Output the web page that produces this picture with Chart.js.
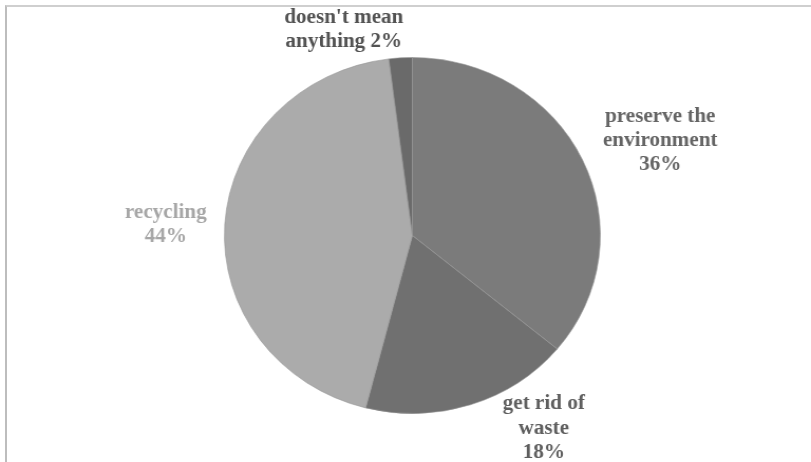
<!DOCTYPE html>
<html>
<head>
<meta charset="utf-8">
<script src="https://cdn.jsdelivr.net/npm/chart.js@4"></script>
<style>
    html, body { margin: 0; padding: 0; background: #fff; }
    #wrap { position: relative; width: 811px; height: 462px; overflow: hidden; }
    #frame {
        position: absolute; left: 5px; top: 5px; width: 820px; height: 470px;
        border-top: 2px solid #cfcfcf; border-left: 2px solid #bdbdbd;
    }
    /* the chart is drawn a little wider than tall */
    canvas { position: absolute; left: 0; top: 0; transform: scaleX(1.056); transform-origin: 0 0; }
</style>
</head>
<body>
<div id="wrap">
    <div id="frame"></div>
    <canvas id="pieChart" width="811" height="462"></canvas>
</div>
<script>
const labels = ["preserve the environment", "get rid of waste", "recycling", "doesn't mean anything"];
const percents = [36, 18, 44, 2];
const labelLines = [
    ["preserve the", "environment", "36%"],
    ["get rid of", "waste", "18%"],
    ["recycling", "44%"],
    ["doesn't mean", "anything 2%"]
];
const sliceColors = ["#7b7b7b", "#707070", "#ababab", "#6a6a6a"];
const textColors = ["#646464", "#5e5e5e", "#a6a6a6", "#525252"];

// where each label sits, relative to its slice's mid angle
const labelPlace = [
    { dist: 46, dx: 32, dy: 1, lh: 24 },
    { dist: 24, dx: 62, dy: 1, lh: 24.5 },
    { dist: 56, dx: 0, dy: 4, lh: 24 },
    { dist: 28, dx: -52, dy: 0, lh: 24 }
];

const sliceLabels = {
    id: "sliceLabels",
    afterDatasetsDraw(chart) {
        const ctx = chart.ctx;
        const meta = chart.getDatasetMeta(0);
        ctx.save();
        ctx.font = "bold 20px 'Liberation Serif', serif";
        ctx.textAlign = "center";
        ctx.textBaseline = "middle";
        meta.data.forEach((arc, i) => {
            const p = labelPlace[i];
            const mid = (arc.startAngle + arc.endAngle) / 2;
            const r = arc.outerRadius + p.dist;
            const x = arc.x + Math.cos(mid) * r + p.dx;
            const y = arc.y + Math.sin(mid) * r + p.dy;
            const lines = labelLines[i];
            ctx.fillStyle = textColors[i];
            lines.forEach((t, k) => {
                ctx.fillText(t, x, y + (k - (lines.length - 1) / 2) * p.lh);
            });
        });
        ctx.restore();
    }
};

new Chart(document.getElementById("pieChart").getContext("2d"), {
    type: "pie",
    data: {
        labels: labels,
        datasets: [{
            data: percents,
            backgroundColor: sliceColors,
            borderColor: "rgba(150,150,150,0.6)",
            borderWidth: 1
        }]
    },
    options: {
        responsive: false,
        animation: false,
        layout: { padding: { top: 57, bottom: 48, left: 212, right: 242 } },
        plugins: {
            legend: { display: false },
            tooltip: { enabled: false }
        }
    },
    plugins: [sliceLabels]
});
</script>
</body>
</html>
